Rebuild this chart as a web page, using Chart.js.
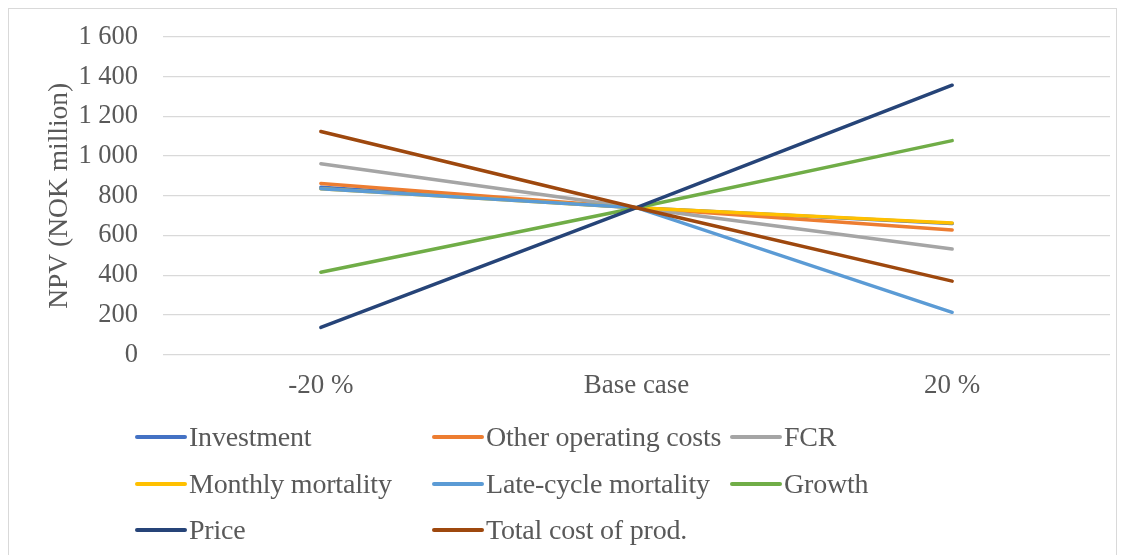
<!DOCTYPE html>
<html>
<head>
<meta charset="utf-8">
<script src="https://cdn.jsdelivr.net/npm/chart.js@4/dist/chart.umd.min.js"></script>
<style>
  html, body { margin: 0; padding: 0; background: #fff; }
  #frame { position: absolute; left: 8px; top: 8px; width: 1109px; height: 560px; border: 1.5px solid #d9d9d9; box-sizing: border-box; }
  #wrap { position: absolute; left: 0; top: 0; width: 1123px; height: 555px; }
  #legend { position: absolute; left: 135px; top: 422px; font-family: "Liberation Serif", "Times New Roman", serif; font-size: 28px; color: #595959; letter-spacing: -0.2px; }
  .item { position: absolute; white-space: nowrap; display: flex; align-items: center; height: 30px; }
  .swatch { display: inline-block; width: 52px; height: 4px; border-radius: 2px; margin-right: 2px; }
</style>
</head>
<body>
<div id="frame"></div>
<div id="wrap"><canvas id="c" width="1123" height="555"></canvas></div>
<div id="legend"></div>
<script>
const categories = ["-20 %", "Base case", "20 %"];
const seriesNames = ["Investment", "Other operating costs", "FCR", "Monthly mortality", "Late-cycle mortality", "Growth", "Price", "Total cost of prod."];
const investment = [843, 740, 660];
const otherOperatingCosts = [862, 740, 628];
const fcr = [962, 740, 532];
const monthlyMortality = [835, 740, 663];
const lateCycleMortality = [836, 740, 213];
const growth = [415, 740, 1078];
const price = [137, 740, 1357];
const totalCostOfProd = [1124, 740, 370];
const yTicks = [0, 200, 400, 600, 800, 1000, 1200, 1400, 1600];

const colors = ["#4472C4", "#ED7D31", "#A5A5A5", "#FFC000", "#5B9BD5", "#70AD47", "#264478", "#9E480E"];
const allData = [investment, otherOperatingCosts, fcr, monthlyMortality, lateCycleMortality, growth, price, totalCostOfProd];

const datasets = seriesNames.map((n, i) => ({
  label: n,
  data: allData[i],
  borderColor: colors[i],
  backgroundColor: colors[i],
  borderWidth: 3.5,
  pointRadius: 0,
  borderCapStyle: 'round',
  tension: 0,
  order: seriesNames.length - i
}));

const fmt = v => {
  const s = String(v);
  return s.length > 3 ? s.slice(0, s.length - 3) + " " + s.slice(-3) : s;
};

new Chart(document.getElementById('c'), {
  type: 'line',
  data: { labels: categories, datasets },
  options: {
    responsive: false,
    animation: false,
    layout: { padding: { left: 0, right: 13, top: 37, bottom: 146 } },
    plugins: { legend: { display: false }, tooltip: { enabled: false } },
    scales: {
      x: {
        offset: true,
        grid: { display: false },
        border: { display: false },
        ticks: { color: '#595959', font: { family: "Liberation Serif", size: 27 }, padding: 7 }
      },
      y: {
        min: 0, max: 1600,
        afterBuildTicks: s => { s.ticks = yTicks.map(v => ({ value: v })); },
        afterFit: s => { s.width = 163; s.paddingTop = 0; s.paddingBottom = 0; },
        grid: { color: '#d9d9d9', lineWidth: 1.3, drawTicks: false },
        border: { display: false },
        ticks: { color: '#595959', font: { family: "Liberation Serif", size: 26.5 }, padding: 25, callback: v => fmt(v) },
        title: { display: true, text: "NPV (NOK million)", color: '#595959', font: { family: "Liberation Serif", size: 27.5 }, padding: { top: 43, bottom: 0 } }
      }
    }
  }
});

const legend = document.getElementById('legend');
const colX = [0, 297, 595];
seriesNames.forEach((n, i) => {
  const d = document.createElement('div');
  d.className = 'item';
  d.style.left = colX[i % 3] + 'px';
  d.style.top = (Math.floor(i / 3) * 46.5) + 'px';
  d.innerHTML = '<span class="swatch" style="background:' + colors[i] + '"></span><span>' + n + '</span>';
  legend.appendChild(d);
});
</script>
</body>
</html>
